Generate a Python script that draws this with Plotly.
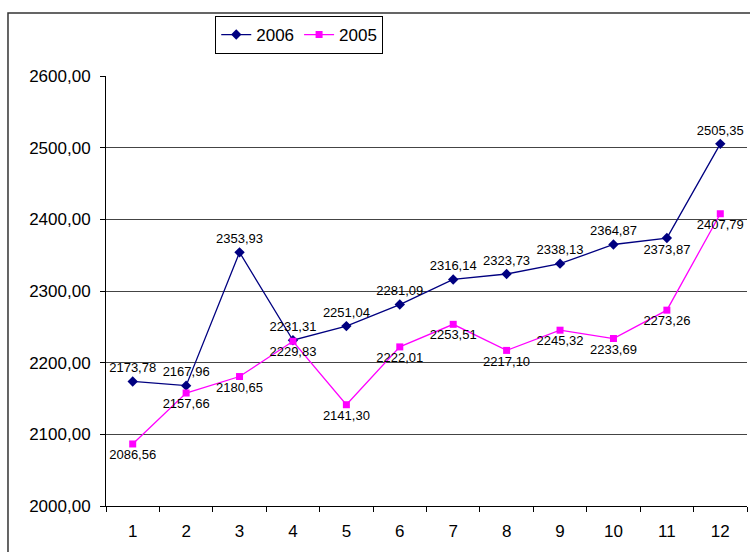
import plotly.graph_objects as go

months = ["1", "2", "3", "4", "5", "6", "7", "8", "9", "10", "11", "12"]
values_2006 = [2173.78, 2167.96, 2353.93, 2231.31, 2251.04, 2281.09,
               2316.14, 2323.73, 2338.13, 2364.87, 2373.87, 2505.35]
values_2005 = [2086.56, 2157.66, 2180.65, 2229.83, 2141.30, 2222.01,
               2253.51, 2217.10, 2245.32, 2233.69, 2273.26, 2407.79]
y_ticks = [2000, 2100, 2200, 2300, 2400, 2500, 2600]

FONT = "Liberation Sans, Arial, sans-serif"

pos_2006 = ["top center"] * len(months)
pos_2006[10] = "bottom center"
pos_2005 = ["bottom center"] * len(months)

fig = go.Figure()
fig.add_trace(go.Scatter(
    x=months, y=values_2006, name="2006",
    mode="lines+markers+text",
    line=dict(color="#000080", width=1.3),
    marker=dict(symbol="diamond", size=8, color="#000080"),
    texttemplate="%{y:.2f}", textposition=pos_2006,
    textfont=dict(family=FONT, size=13, color="#000"),
    cliponaxis=False,
))
fig.add_trace(go.Scatter(
    x=months, y=values_2005, name="2005",
    mode="lines+markers+text",
    line=dict(color="#FF00FF", width=1.3),
    marker=dict(symbol="square", size=7, color="#FF00FF"),
    texttemplate="%{y:.2f}", textposition=pos_2005,
    textfont=dict(family=FONT, size=13, color="#000"),
    cliponaxis=False,
))

fig.update_layout(
    width=750, height=552,
    margin=dict(l=106, r=3, t=76, b=46),
    paper_bgcolor="white", plot_bgcolor="white",
    separators=", ",
    font=dict(family=FONT, size=16, color="#000"),
    showlegend=True,
    legend=dict(
        orientation="h", xref="container", yref="container",
        x=0.399, xanchor="center", y=0.971, yanchor="top",
        bordercolor="#000", borderwidth=1, bgcolor="white",
        font=dict(family=FONT, size=17),
        itemwidth=30, tracegroupgap=0,
    ),
    xaxis=dict(
        type="category", range=[-0.5, 11.5], autorange=False,
        tickson="boundaries", ticks="outside", ticklen=5,
        tickcolor="#000", showline=True, linecolor="#000", linewidth=1,
        showgrid=False, ticklabelstandoff=10, fixedrange=True,
        automargin=False, tickfont=dict(size=17),
    ),
    yaxis=dict(
        range=[2000, 2600], tickvals=y_ticks, tickformat=".2f",
        ticks="outside", ticklen=5, tickcolor="#000",
        showline=True, linecolor="#000", linewidth=1,
        showgrid=True, gridcolor="#444", gridwidth=1,
        zeroline=False, ticklabelstandoff=6, automargin=False,
        tickfont=dict(size=17),
    ),
    shapes=[dict(
        type="rect", xref="paper", yref="paper",
        x0=-0.1529, x1=1.2, y0=-0.3, y1=1.1465,
        line=dict(color="#333", width=1.5), layer="below",
    )],
)

fig.write_html("out.html")
